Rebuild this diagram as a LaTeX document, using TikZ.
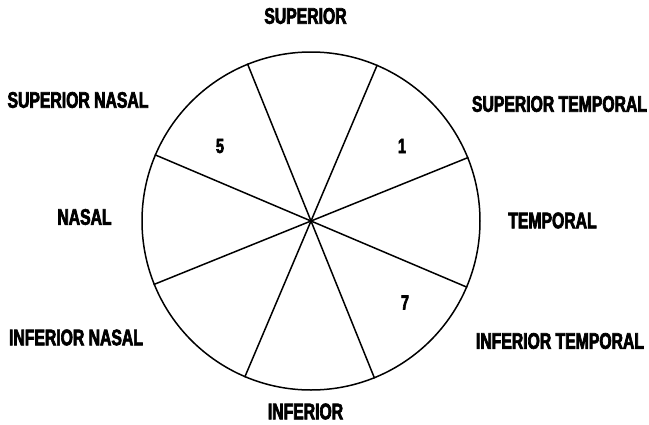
\documentclass[tikz,border=0pt]{standalone}
\usepackage{fontspec}
\newfontfamily\labfont{Liberation Sans}[FakeStretch=0.70,FakeBold=3]
\begin{document}
\begin{tikzpicture}[x=1pt,y=-1pt,
  lab/.style={font=\labfont\bfseries\fontsize{22.5}{24}\selectfont, inner sep=0pt, anchor=center},
  num/.style={font=\labfont\bfseries\fontsize{20.5}{22}\selectfont, inner sep=0pt, anchor=center},
  wheel/.style={draw, circle, line width=1.5pt, minimum size=338pt, inner sep=0pt},
  spoke/.style={line width=1.5pt}]
\useasboundingbox (0,0) rectangle (649,424);
\node[wheel] (c) at (311,221) {};
\draw[spoke] (c.22.5) -- (c.202.5);
\draw[spoke] (c.67.5) -- (c.247.5);
\draw[spoke] (c.112.5) -- (c.292.5);
\draw[spoke] (c.157.5) -- (c.337.5);
\node[lab] (sup) at (305.5,16) {SUPERIOR};
\node[lab] (supn) at (78,100) {SUPERIOR NASAL};
\node[lab] (supt) at (559.5,104) {SUPERIOR TEMPORAL};
\node[lab] (nas) at (84.5,217) {NASAL};
\node[lab] (tmp) at (552.5,220.5) {TEMPORAL};
\node[lab] (infn) at (76,337.5) {INFERIOR NASAL};
\node[lab] (inft) at (560,341) {INFERIOR TEMPORAL};
\node[lab] (inf) at (305.5,411.5) {INFERIOR};
\node[num] (n5) at (220,146) {5};
\node[num] (n1) at (402,146) {1};
\node[num] (n7) at (405,302.5) {7};
\end{tikzpicture}
\end{document}
